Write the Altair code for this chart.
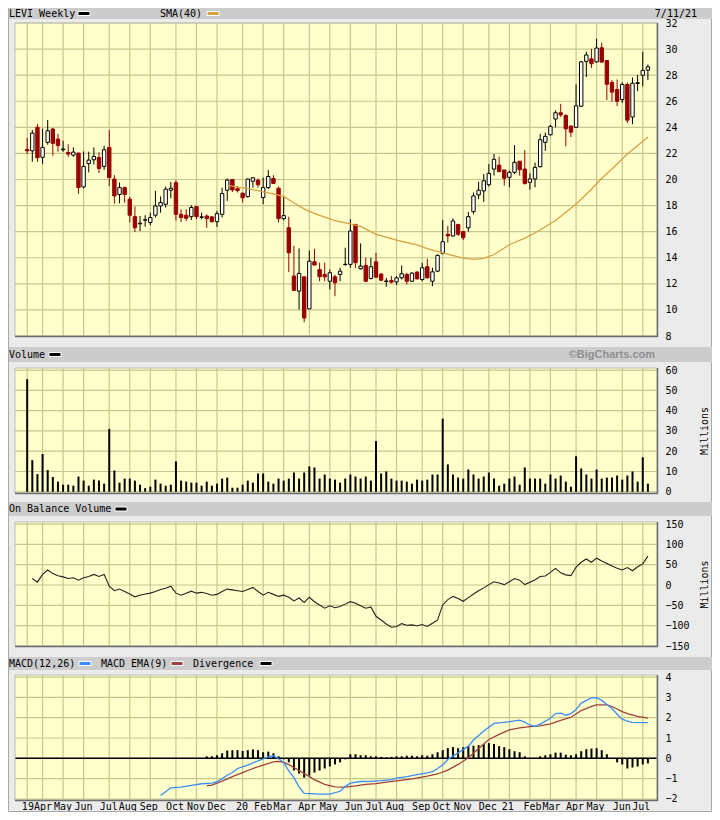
import json
import altair as alt
import pandas as pd

# ---------------- values (LEVI weekly) ----------------
opens = [22.30, 22.20, 24.00, 21.70, 22.85, 23.87, 23.10, 22.28, 22.08, 21.87,
         22.03, 19.43, 21.23, 21.51, 21.69, 21.00, 22.46, 20.03, 18.85, 19.38,
         18.49, 17.15, 16.60, 16.88, 16.70, 17.26, 17.97, 18.10, 19.18, 19.75,
         17.33, 17.26, 17.15, 17.92, 17.10, 17.20, 17.13, 16.77, 17.33, 19.18,
         20.00, 19.30, 18.95, 18.70, 19.87, 19.95, 18.62, 19.38, 20.08, 19.33,
         17.00, 16.30, 12.60, 11.44, 12.54, 10.08, 13.69, 13.10, 12.72, 12.20,
         12.54, 12.72, 13.47, 13.49, 16.56, 13.15, 13.41, 12.41, 13.69, 12.74,
         12.18, 12.26, 12.15, 12.46, 12.72, 12.20, 12.90, 12.33, 13.31, 12.20,
         12.97, 14.33, 15.80, 15.67, 16.56, 16.00, 16.30, 17.54, 18.82, 19.13,
         19.60, 20.80, 21.10, 20.73, 20.17, 20.55, 21.40, 20.80, 19.78, 20.04,
         20.98, 22.85, 23.43, 24.64, 25.12, 24.90, 24.10, 24.00, 25.62, 29.05,
         29.25, 29.02, 30.10, 29.12, 27.44, 26.90, 26.13, 27.29, 24.79, 27.36,
         28.00, 28.39]
highs = [23.20, 23.80, 24.26, 23.90, 24.56, 23.95, 23.50, 22.97, 22.70, 22.46,
         22.03, 22.15, 22.13, 22.46, 22.08, 22.59, 23.80, 20.33, 19.77, 19.46,
         18.67, 17.92, 17.20, 17.26, 17.46, 19.13, 18.70, 19.46, 19.82, 19.95,
         17.72, 17.72, 18.03, 17.92, 17.46, 17.33, 17.20, 17.60, 19.38, 20.08,
         20.03, 19.50, 19.00, 20.08, 20.18, 20.08, 20.15, 20.72, 20.33, 19.46,
         18.74, 17.15, 14.90, 14.72, 12.54, 14.56, 14.69, 13.62, 13.62, 13.10,
         12.70, 13.23, 14.77, 16.95, 16.56, 15.10, 14.00, 14.00, 14.38, 12.85,
         12.46, 12.60, 12.60, 13.41, 12.85, 12.90, 12.97, 13.62, 13.92, 13.23,
         14.26, 16.90, 16.44, 17.03, 16.56, 16.05, 17.51, 19.00, 19.82, 20.41,
         21.18, 21.95, 21.75, 20.73, 20.68, 22.64, 21.40, 22.26, 20.47, 21.30,
         23.50, 23.60, 24.18, 25.30, 25.80, 25.02, 24.12, 27.30, 29.10, 29.80,
         30.02, 30.80, 30.50, 29.12, 27.62, 27.67, 27.45, 27.44, 27.82, 28.02,
         29.80, 28.82]
lows = [21.95, 21.36, 21.36, 21.20, 22.67, 21.82, 22.13, 22.13, 21.74, 21.74,
        18.90, 19.30, 20.54, 21.15, 20.49, 20.74, 19.50, 18.15, 18.18, 18.23,
        16.70, 15.97, 16.05, 16.38, 16.50, 17.08, 17.46, 17.85, 18.56, 16.85,
        16.74, 16.82, 16.90, 16.95, 16.95, 16.30, 16.70, 16.36, 17.08, 18.36,
        19.05, 19.00, 18.23, 18.60, 19.38, 19.38, 18.10, 19.26, 19.70, 16.70,
        16.87, 12.90, 11.44, 10.03, 9.05, 10.08, 13.44, 12.20, 12.20, 11.56,
        11.05, 12.20, 13.40, 13.23, 13.23, 13.10, 12.13, 12.33, 12.46, 12.20,
        11.77, 12.03, 11.90, 12.33, 11.95, 12.15, 12.33, 12.20, 12.41, 11.82,
        12.90, 14.26, 15.15, 15.62, 15.67, 15.36, 16.00, 17.33, 18.49, 18.28,
        19.46, 20.30, 20.60, 19.53, 19.40, 20.42, 20.30, 19.60, 19.22, 19.40,
        20.93, 22.20, 23.36, 24.00, 24.80, 22.55, 23.25, 23.95, 25.58, 27.85,
        28.55, 28.95, 28.99, 26.10, 25.95, 25.63, 25.88, 24.34, 24.24, 26.77,
        27.14, 27.62]
closes = [22.20, 23.56, 21.67, 22.46, 23.74, 22.77, 22.60, 22.34, 21.95, 22.10,
          19.38, 21.00, 21.49, 21.77, 20.85, 22.28, 20.15, 18.74, 19.38, 18.85,
          17.26, 16.30, 16.65, 16.92, 17.08, 17.97, 18.23, 19.26, 19.33, 17.33,
          17.08, 17.03, 17.85, 17.15, 17.14, 17.00, 16.77, 17.38, 18.92, 19.95,
          19.20, 19.15, 18.60, 20.03, 20.13, 19.60, 19.38, 20.23, 19.70, 17.00,
          17.23, 14.38, 11.50, 12.80, 9.38, 13.74, 13.44, 12.54, 12.54, 12.85,
          12.08, 12.97, 13.50, 16.05, 13.62, 13.36, 12.20, 13.31, 12.51, 12.28,
          12.22, 12.13, 12.46, 12.77, 12.20, 12.82, 12.38, 13.23, 12.46, 12.92,
          14.18, 15.23, 15.67, 16.82, 15.80, 15.54, 17.15, 18.74, 19.18, 19.90,
          20.47, 21.55, 20.60, 20.09, 20.55, 21.32, 20.75, 19.70, 20.04, 20.93,
          23.05, 23.31, 24.07, 25.12, 24.95, 23.88, 23.63, 25.65, 29.02, 29.55,
          28.88, 30.08, 29.00, 27.30, 26.70, 26.00, 27.29, 24.55, 27.38, 27.42,
          28.36, 28.64]
volume_m = [55.5, 15.6, 8.7, 18.6, 10.7, 7.3, 5.0, 3.5, 3.5, 3.0,
            7.5, 5.5, 3.0, 6.0, 5.5, 4.0, 31.0, 10.5, 4.5, 6.5,
            6.5, 5.5, 3.5, 1.8, 2.5, 6.0, 4.0, 3.0, 3.5, 15.0,
            5.5, 5.0, 4.5, 4.5, 3.0, 5.0, 3.0, 4.0, 6.5, 7.0,
            2.0, 2.0, 3.5, 5.5, 4.5, 9.0, 9.0, 5.0, 4.0, 6.5,
            5.5, 6.5, 9.5, 6.5, 9.5, 12.5, 12.0, 6.5, 8.5, 6.5,
            6.0, 4.5, 6.5, 8.5, 7.5, 6.5, 7.5, 5.5, 25.0, 9.0,
            10.0, 6.5, 5.5, 5.5, 5.0, 4.0, 6.0, 5.5, 6.0, 8.5,
            8.5, 36.0, 13.5, 8.5, 7.0, 6.5, 11.0, 8.5, 6.5, 7.5,
            9.5, 6.5, 3.0, 4.0, 6.5, 7.5, 3.5, 12.0, 6.5, 6.5,
            6.5, 4.0, 8.5, 6.5, 8.0, 5.0, 2.5, 17.5, 11.5, 8.5,
            6.5, 11.0, 6.5, 7.0, 7.0, 8.0, 6.0, 8.0, 10.0, 5.0,
            17.0, 4.0]
# on balance volume, starting with the second week
obv_m = [16, 7, 26, 37, 28, 23, 20, 16, 18, 12,
         18, 21, 26, 21, 26, -3, -14, -10, -16, -22,
         -29, -25, -22, -20, -16, -11, -8, -3, -20, -25,
         -20, -15, -20, -18, -21, -25, -23, -16, -10, -12,
         -14, -16, -11, -6, -16, -25, -18, -23, -28, -25,
         -30, -39, -32, -43, -30, -41, -49, -57, -51, -56,
         -53, -47, -41, -45, -51, -57, -54, -77, -86, -96,
         -104, -102, -95, -99, -98, -100, -97, -102, -94, -86,
         -49, -36, -28, -33, -40, -31, -22, -14, -7, 1,
         8, 5, 1, 8, 16, 12, 1, 7, 13, 21,
         22, 31, 41, 30, 25, 23, 44, 56, 64, 56,
         66, 59, 53, 47, 41, 37, 43, 35, 45, 52,
         71]
sma_weeks = [39, 43, 46, 48, 50, 52, 54, 55, 57, 60, 63, 65, 68, 72, 76, 78,
             81, 85, 87, 89, 91, 94, 97, 99, 103, 107, 110, 112, 114, 117, 119, 121]
sma_vals = [19.55, 19.30, 19.05, 18.90, 18.70, 18.20, 17.75, 17.55, 17.25, 16.85,
            16.60, 16.40, 15.80, 15.35, 14.98, 14.70, 14.37, 13.97, 13.87, 13.95,
            14.25, 15.00, 15.50, 15.90, 16.85, 18.12, 19.25, 20.10, 20.80, 21.95,
            22.60, 23.25]
macd_weeks = [26, 28, 30, 32, 34, 36, 37, 38, 39, 40, 41, 43, 45, 47, 48, 49, 50,
              51, 52, 53, 54, 57, 59, 61, 62, 63, 65, 67, 69, 71, 72, 74, 76, 78,
              79, 80, 81, 82, 84, 86, 87, 89, 91, 93, 95, 96, 97, 98, 99, 100,
              102, 103, 104, 105, 106, 107, 108, 109, 110, 111, 112, 113, 114,
              115, 116, 117, 118, 121]
macd_vals = [-1.83, -1.45, -1.42, -1.33, -1.25, -1.22, -1.15, -1.00, -0.83, -0.70,
             -0.50, -0.33, -0.12, 0.07, 0.13, -0.02, -0.20, -0.62, -0.95, -1.40,
             -1.72, -1.76, -1.76, -1.62, -1.38, -1.22, -1.14, -1.13, -1.10, -1.05,
             -0.97, -0.90, -0.80, -0.72, -0.65, -0.50, -0.33, -0.05, 0.27, 0.60,
             0.90, 1.35, 1.72, 1.77, 1.84, 1.88, 1.78, 1.63, 1.57, 1.68,
             1.97, 2.20, 2.22, 2.12, 2.20, 2.40, 2.72, 2.85, 2.97, 2.98,
             2.85, 2.65, 2.45, 2.17, 1.93, 1.83, 1.77, 1.76]
ema_weeks = [35, 36, 38, 40, 42, 44, 46, 48, 49, 50, 51, 53, 55, 56, 58, 60, 62,
             64, 66, 68, 70, 72, 75, 78, 80, 82, 84, 86, 88, 90, 92, 94, 96, 98,
             100, 102, 104, 106, 108, 110, 111, 113, 114, 116, 117, 119, 121]
ema_vals = [-1.34, -1.32, -1.12, -0.90, -0.70, -0.50, -0.33, -0.17, -0.15, -0.20,
            -0.31, -0.60, -0.90, -1.05, -1.28, -1.40, -1.42, -1.36, -1.28, -1.24,
            -1.17, -1.11, -1.01, -0.88, -0.77, -0.58, -0.30, 0.03, 0.48, 0.93,
            1.18, 1.40, 1.50, 1.56, 1.60, 1.70, 1.87, 2.02, 2.35, 2.56,
            2.63, 2.63, 2.55, 2.30, 2.20, 2.06, 1.98]
div_first_week = 35
divergence = [0.10, 0.10, 0.15, 0.25, 0.38, 0.40, 0.40, 0.36, 0.40, 0.44,
              0.40, 0.30, 0.33, 0.25, 0.10,
              -0.05, -0.20, -0.60, -0.75, -0.95, -0.85, -0.70, -0.60, -0.50, -0.40,
              -0.30, -0.20, -0.05,
              0.20, 0.20, 0.15, 0.15, 0.10, 0.10, 0.07, 0.05, 0.07, 0.10,
              0.10, 0.13, 0.13, 0.10, 0.15, 0.13, 0.20, 0.30, 0.40, 0.50,
              0.55, 0.50, 0.55, 0.60, 0.62, 0.65, 0.70, 0.75, 0.70, 0.60,
              0.55, 0.45, 0.35, 0.30, 0.10, 0.00, 0.00, 0.10, 0.15, 0.20,
              0.28, 0.28, 0.18, 0.15, 0.20, 0.35, 0.45, 0.48, 0.50, 0.40,
              0.20, 0.00, -0.20, -0.30, -0.50, -0.45, -0.40, -0.30, -0.25]

grid_weeks = [0, 3, 7, 11, 16, 20, 24, 29, 33, 37, 42, 46, 50, 55, 59, 63, 68,
              72, 77, 81, 85, 90, 94, 98, 102, 107, 111, 116, 120]
label_weeks = [1.8, 6.9, 10.9, 15.8, 19.5, 23.6, 28.7, 32.8, 36.8, 41.8, 45.9,
               49.7, 54.5, 58.7, 63.5, 67.6, 71.6, 76.7, 80.7, 84.8, 89.7, 93.6,
               98.4, 102.1, 106.7, 110.7, 115.8, 119.6]
label_text = ["19Apr", "May", "Jun", "Jul", "Aug", "Sep", "Oct", "Nov", "Dec", "20",
              "Feb", "Mar", "Apr", "May", "Jun", "Jul", "Aug", "Sep", "Oct", "Nov",
              "Dec", "21", "Feb", "Mar", "Apr", "May", "Jun", "Jul"]
price_ticks = [8, 10, 12, 14, 16, 18, 20, 22, 24, 26, 28, 30, 32]
vol_ticks = [0, 10, 20, 30, 40, 50, 60]
obv_ticks = [-150, -100, -50, 0, 50, 100, 150]
macd_ticks = [-2, -1, 0, 1, 2, 3, 4]

# ---------------- tables ----------------
weeks = list(range(len(closes)))
candles = pd.DataFrame({"w": weeks, "open": opens, "high": highs, "low": lows, "close": closes})
vol_df = pd.DataFrame({"w": weeks, "vol": volume_m})
obv_df = pd.DataFrame({"w": list(range(1, 1 + len(obv_m))), "obv": obv_m})
sma_df = pd.DataFrame({"w": sma_weeks, "sma": sma_vals})
macd_df = pd.DataFrame({"w": macd_weeks, "macd": macd_vals})
ema_df = pd.DataFrame({"w": ema_weeks, "ema": ema_vals})
div_df = pd.DataFrame({"w": list(range(div_first_week, div_first_week + len(divergence))),
                       "div": divergence})
grid_df = pd.DataFrame({"w": grid_weeks})

# ---------------- layout / style ----------------
W, H = 642, 792
P_PRICE, P_VOL, P_OBV, P_MACD = (15, 328), (360, 485), (514, 638), (667, 792)
PANELS = [P_PRICE, P_VOL, P_OBV, P_MACD]
HEADERS = [(0, 11), (339, 354), (494, 508), (649, 662)]
MONO = "DejaVu Sans Mono"
BG, HEAD, PLOT, GRID = "#ebebeb", "#cccccc", "#ffffcc", "#c6c68a"
RED, TAN, BLUE, BROWN = "#990000", "#d9a040", "#3a8cff", "#a0403c"

dummy = pd.DataFrame({"d": [0]})


def box(x1, x2, y1, y2, **kw):
    return alt.Chart(dummy).mark_rect(**kw).encode(
        x=alt.value(x1), x2=alt.value(x2), y=alt.value(y1), y2=alt.value(y2))


def label(txt, x, y, align="left", **kw):
    style = dict(font=MONO, fontSize=10, color="#000000")
    style.update(kw)
    return alt.Chart(dummy).mark_text(text=txt, align=align, baseline="middle", **style).encode(
        x=alt.value(x), y=alt.value(y))


def swatch(x, yc, color):
    return box(x, x + 12, yc - 2, yc + 2, fill=color, stroke="#ffffff", strokeWidth=1)


XS = alt.Scale(domain=[-1.4, 121.8], nice=False, zero=False)
XA = alt.Axis(values=label_weeks,
              labelExpr=f"{json.dumps(label_text)}[indexof({json.dumps(label_weeks)}, datum.value)]",
              orient="bottom", grid=False, ticks=False, domain=False, title=None,
              labelPadding=1, labelOverlap=False, labelFlush=False, labelBound=False,
              labelFont=MONO, labelFontSize=10, labelColor="#000000")


def xw():
    return alt.X("w:Q", scale=XS, axis=XA)


def y_axis(ticks, title=None, mid=None):
    kw = dict(values=ticks, orient="right", grid=False, ticks=False, domain=False,
              labelPadding=8, labelFont=MONO, labelFontSize=10, labelColor="#000000",
              labelOverlap=False)
    if title:
        kw.update(title=title, titleAngle=270, titleX=47, titleY=mid, titleFont=MONO,
                  titleFontSize=10, titleFontWeight="normal", titleColor="#000000",
                  titleAlign="center", titleBaseline="middle")
    else:
        kw["title"] = None
    return alt.Axis(**kw)


def hgrid(ticks, scale, axis):
    return alt.Chart(pd.DataFrame({"v": ticks})).mark_rule(color=GRID, strokeWidth=1.2).encode(
        y=alt.Y("v:Q", scale=scale, axis=axis), x=alt.value(0), x2=alt.value(W))


# ---- price panel ----
PS = alt.Scale(domain=[8, 32], range=[P_PRICE[1], P_PRICE[0]], nice=False, zero=False)
PA = y_axis(price_ticks)
up = "datum.close >= datum.open"
price = alt.layer(
    hgrid(price_ticks, PS, PA),
    alt.Chart(candles).mark_rule(strokeWidth=1).encode(
        x=xw(), y=alt.Y("low:Q", scale=PS, axis=PA), y2=alt.Y2("high:Q"),
        color=alt.condition(up, alt.value("#000000"), alt.value(RED))),
    alt.Chart(candles).mark_bar(size=3.4, strokeWidth=1).encode(
        x=xw(), y=alt.Y("open:Q", scale=PS, axis=PA), y2=alt.Y2("close:Q"),
        fill=alt.condition(up, alt.value("#ffffff"), alt.value(RED)),
        stroke=alt.condition(up, alt.value("#000000"), alt.value(RED))),
    alt.Chart(sma_df).mark_line(color=TAN, strokeWidth=1.3).encode(
        x=xw(), y=alt.Y("sma:Q", scale=PS, axis=PA)),
)

# ---- volume panel ----
VS = alt.Scale(domain=[-0.6, 61], range=[P_VOL[1], P_VOL[0]], nice=False, zero=False)
VA = y_axis(vol_ticks, "Millions", (P_VOL[0] + P_VOL[1]) / 2)
vol = alt.layer(
    hgrid(vol_ticks, VS, VA),
    alt.Chart(vol_df).mark_bar(size=2, color="#000000").encode(
        x=xw(), y=alt.Y("vol:Q", scale=VS, axis=VA), y2=alt.datum(0)),
)

# ---- OBV panel ----
OS = alt.Scale(domain=[-150, 155], range=[P_OBV[1], P_OBV[0]], nice=False, zero=False)
OA = y_axis(obv_ticks, "Millions", (P_OBV[0] + P_OBV[1]) / 2)
obv = alt.layer(
    hgrid(obv_ticks, OS, OA),
    alt.Chart(obv_df).mark_line(color="#222222", strokeWidth=1.1).encode(
        x=xw(), y=alt.Y("obv:Q", scale=OS, axis=OA)),
)

# ---- MACD panel ----
MS = alt.Scale(domain=[-2.05, 4.1], range=[P_MACD[1], P_MACD[0]], nice=False, zero=False)
MA = y_axis(macd_ticks)
macd = alt.layer(
    hgrid(macd_ticks, MS, MA),
    alt.Chart(pd.DataFrame({"v": [0]})).mark_rule(color="#000000", strokeWidth=1.5).encode(
        y=alt.Y("v:Q", scale=MS, axis=MA), x=alt.value(0), x2=alt.value(W)),
    alt.Chart(div_df).mark_bar(size=2, color="#000000").encode(
        x=xw(), y=alt.Y("div:Q", scale=MS, axis=MA), y2=alt.datum(0)),
    alt.Chart(ema_df).mark_line(color=BROWN, strokeWidth=1.3).encode(
        x=xw(), y=alt.Y("ema:Q", scale=MS, axis=MA)),
    alt.Chart(macd_df).mark_line(color=BLUE, strokeWidth=1.3).encode(
        x=xw(), y=alt.Y("macd:Q", scale=MS, axis=MA)),
)

# ---- decoration ----
decor = [box(-6.5, 696.5, 0.5, 803.5, filled=False, stroke="#a8a8a8", strokeWidth=1)]
decor += [box(-6, 697, a, b, fill=HEAD) for a, b in HEADERS]
decor += [box(0, W, a, b, fill=PLOT) for a, b in PANELS]
vgrid = [alt.Chart(grid_df).mark_rule(color=GRID, strokeWidth=1.2).encode(
    x=xw(), y=alt.value(a), y2=alt.value(b)) for a, b in PANELS]
borders = []
for a, b in PANELS:
    borders.append(box(0, W, a, b, filled=False, stroke="#bdbdbd", strokeWidth=1))
    borders.append(alt.Chart(dummy).mark_rule(color="#6e6e6e", strokeWidth=1.5).encode(
        x=alt.value(0), x2=alt.value(W + 1), y=alt.value(b + 0.5)))
    borders.append(alt.Chart(dummy).mark_rule(color="#6e6e6e", strokeWidth=1.5).encode(
        x=alt.value(W + 0.5), y=alt.value(a), y2=alt.value(b + 1)))

texts = [
    label("LEVI Weekly", -6, 5.5), swatch(63, 5.5, "#000000"),
    label("SMA(40)", 145, 5.5), swatch(192, 5.5, TAN),
    label("7/11/21", 682, 5.5, align="right"),
    label("Volume", -6, 346.5), swatch(34, 346.5, "#000000"),
    label("\u00a9BigCharts.com", 640, 346.5, align="right", font="Liberation Sans",
          fontSize=11, fontWeight="bold", color="#8f8f8f"),
    label("On Balance Volume", -6, 501), swatch(100, 501, "#000000"),
    label("MACD(12,26)", -6, 655.5), swatch(64, 655.5, BLUE),
    label("MACD EMA(9)", 86, 655.5), swatch(156, 655.5, BROWN),
    label("Divergence", 178, 655.5), swatch(245, 655.5, "#000000"),
]

chart = alt.layer(*decor, *vgrid, price, vol, obv, macd, *borders, *texts).resolve_scale(
    y="independent"
).properties(
    width=W, height=H,
    padding={"left": 7, "right": 55, "top": 0, "bottom": 12},
    autosize=alt.AutoSizeParams(type="none"),
    background=BG,
).configure_view(stroke=None)

chart.save("out.html", embed_options={"renderer": "svg", "actions": False})
